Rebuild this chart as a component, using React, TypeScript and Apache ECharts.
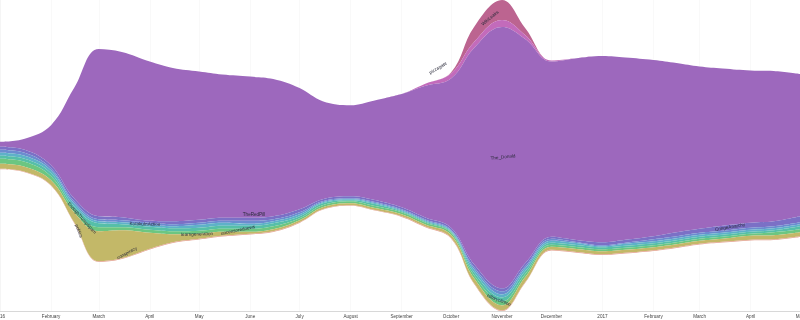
import { useEffect, useRef } from 'react';
import * as echarts from 'echarts';

const dates = [
  '2016-01-01', '2016-01-16', '2016-02-01', '2016-02-15', '2016-03-01', '2016-03-15',
  '2016-04-01', '2016-04-15', '2016-05-01', '2016-05-15', '2016-06-01', '2016-06-15',
  '2016-07-01', '2016-07-15', '2016-08-01', '2016-08-15', '2016-09-01', '2016-09-15',
  '2016-10-01', '2016-10-15', '2016-11-01', '2016-11-15', '2016-12-01', '2016-12-15',
  '2017-01-01', '2017-01-15', '2017-02-01', '2017-02-15', '2017-03-01', '2017-03-15',
  '2017-04-01', '2017-04-15', '2017-05-01',
];

const monthNames = ['January', 'February', 'March', 'April', 'May', 'June', 'July', 'August', 'September', 'October', 'November', 'December'];

// layers listed top to bottom
const wikiLeaks = [0, 0, 0, 0, 0, 0, 0, 0, 0, 0, 0, 0, 0, 0, 0, 0, 0, 0, 1, 15, 20, 7, 0, 0, 0, 0, 0, 0, 0, 0, 0, 0, 0];
const pizzagate = [0, 0, 0, 0, 0, 0, 0, 0, 0, 0, 0, 0, 0, 0, 0, 0, 0, 2, 5, 6, 7, 4, 1, 0, 0, 0, 0, 0, 0, 0, 0, 0, 0];
const theDonald = [5, 11, 40, 110, 167, 165, 159, 153, 148, 143, 141, 137, 121, 98, 91, 99, 113, 131, 149, 216, 261, 224, 175, 181, 186, 182, 176, 169, 162, 157, 152, 150, 142];
const cringeAnarchy = [3, 3, 3, 3, 3, 3, 2, 3, 3, 3, 3, 3, 3, 2, 2, 2, 2, 2, 2, 3, 3, 3, 2, 2, 3, 3, 3, 4, 4, 5, 5, 5, 6];
const kotakuInAction = [3, 3, 2, 2, 2, 2, 2, 2, 2, 2, 3, 2, 2, 1, 1, 1, 1, 1, 1, 2, 3, 2, 2, 1, 1, 1, 2, 2, 2, 2, 2, 2, 2];
const uncensoredNews = [3, 3, 3, 3, 2, 2, 2, 2, 3, 3, 2, 2, 2, 1, 1, 1, 1, 1, 1, 3, 3, 3, 2, 2, 1, 2, 2, 2, 2, 2, 2, 2, 2];
const enoughTrumpSpam = [3, 3, 3, 3, 4, 3, 3, 3, 3, 3, 3, 3, 2, 2, 1, 2, 1, 1, 1, 3, 4, 3, 2, 2, 2, 2, 2, 2, 2, 2, 2, 2, 3];
const politics = [5, 5, 4, 3, 4, 3, 3, 3, 3, 3, 3, 3, 2, 2, 2, 2, 2, 2, 2, 3, 4, 3, 2, 2, 2, 2, 2, 2, 2, 2, 2, 3, 3];
const conspiracy = [5, 5, 5, 10, 30, 28, 16, 8, 5, 4, 2, 2, 2, 2, 2, 2, 2, 2, 3, 5, 5, 5, 3, 3, 3, 3, 3, 3, 3, 3, 4, 4, 4];
const news = [0.6, 0.6, 0.6, 0.6, 0.6, 0.6, 0.6, 0.6, 0.6, 0.6, 0.6, 0.6, 0.6, 0.6, 0.6, 0.6, 0.6, 0.6, 0.6, 0.6, 0.6, 0.6, 0.6, 0.6, 0.6, 0.6, 0.6, 0.6, 0.6, 0.6, 0.6, 0.6, 0.6];

const layerNames = ['WikiLeaks', 'pizzagate', 'The_Donald', 'CringeAnarchy', 'KotakuInAction', 'uncensorednews', 'EnoughTrumpSpam', 'politics', 'conspiracy', 'news'];
const layerValues = [wikiLeaks, pizzagate, theDonald, cringeAnarchy, kotakuInAction, uncensoredNews, enoughTrumpSpam, politics, conspiracy, news];
const layerColors = ['#bc6490', '#c36bbb', '#9d68bd', '#7b70c6', '#6c8ccf', '#5eb1c8', '#56bfa8', '#6cc681', '#c3b868', '#e3a08e'];

const streamLabels = [
  { text: 'WikiLeaks', x: 490, y: 18, rot: 0.7 },
  { text: 'pizzagate', x: 438, y: 68, rot: 0.53 },
  { text: 'The_Donald', x: 503, y: 157, rot: 0.1 },
  { text: 'CringeAnarchy', x: 730, y: 227, rot: 0.17 },
  { text: 'TheRedPill', x: 254, y: 214, rot: 0 },
  { text: 'KotakuInAction', x: 145, y: 224, rot: -0.03 },
  { text: 'uncensorednews', x: 238, y: 230, rot: 0.2 },
  { text: 'learngeneration', x: 197, y: 234, rot: 0.03 },
  { text: 'EnoughTrumpSpam', x: 82, y: 218, rot: -0.84 },
  { text: 'politics', x: 79, y: 231, rot: -1.2 },
  { text: 'conspiracy', x: 127, y: 253, rot: 0.49 },
  { text: 'hillaryclinton', x: 499, y: 300, rot: -0.38 },
];

export default function App() {
  const ref = useRef<HTMLDivElement>(null);
  useEffect(() => {
    if (!ref.current) return;
    const chart = echarts.init(ref.current, null, { renderer: 'svg' });
    const data: any[] = [];
    layerNames.forEach((name, i) => {
      dates.forEach((d, j) => {
        data.push([d, layerValues[i][j], name]);
      });
    });
    chart.setOption({
      animation: false,
      color: layerColors,
      singleAxis: {
        type: 'time',
        left: 0,
        right: 0,
        top: 0,
        height: 311,
        min: '2016-01-01',
        max: '2017-05-01',
        maxInterval: 31 * 24 * 3600 * 1000,
        axisLine: { lineStyle: { color: '#d8d8d8', width: 1 } },
        axisTick: { show: false },
        axisLabel: {
          fontSize: 4.6,
          fontFamily: 'Liberation Sans',
          color: '#444',
          margin: 3,
          showMinLabel: true,
          showMaxLabel: true,
          formatter: (value: number) => {
            const d = new Date(value);
            return d.getMonth() === 0 ? String(d.getFullYear()) : monthNames[d.getMonth()];
          },
        },
        splitLine: { show: true, lineStyle: { color: '#e2e2e2', width: 1, type: 'solid' } },
      },
      series: [
        {
          type: 'themeRiver',
          boundaryGap: [0, 0],
          label: { show: false },
          emphasis: { disabled: true },
          data,
        },
      ],
      graphic: streamLabels.map((l) => ({
        type: 'text',
        x: l.x,
        y: l.y,
        rotation: l.rot,
        z: 100,
        style: {
          text: l.text,
          fontSize: 4.6,
          fontFamily: 'Liberation Sans',
          fill: '#2a2a3a',
          align: 'center',
          verticalAlign: 'middle',
        },
      })),
    });
    return () => chart.dispose();
  }, []);
  return <div ref={ref} style={{ position: 'fixed', left: 0, top: 0, width: 800, height: 320 }} />;
}
